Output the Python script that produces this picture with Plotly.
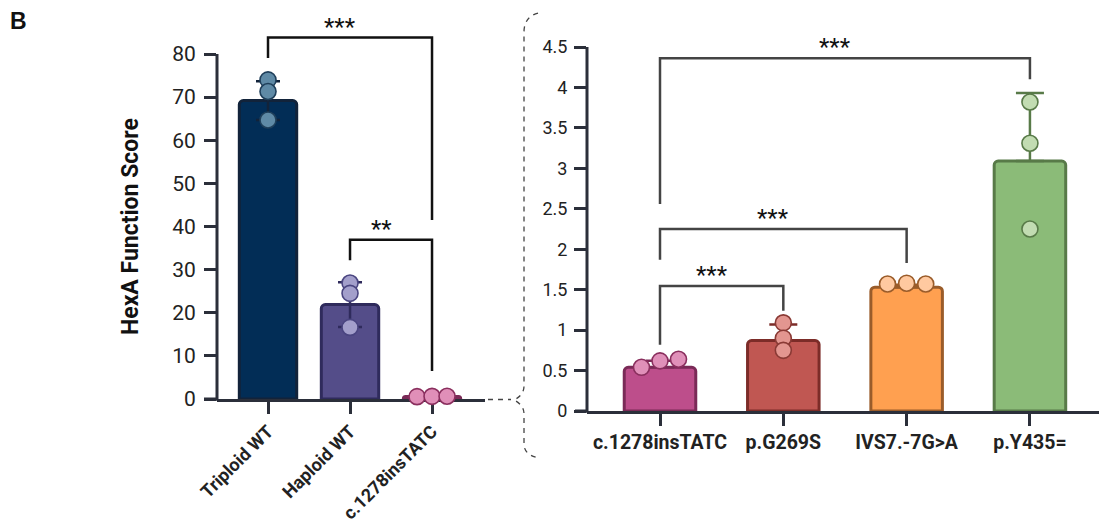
import plotly.graph_objects as go

# ---------------- data ----------------
left_categories = ["Triploid WT", "Haploid WT", "c.1278insTATC"]
left_means = [69.2, 21.9, 0.56]
left_sd = [4.5, 5.2, 0.06]
left_points = [[74.0, 71.3, 64.7], [26.9, 24.5, 16.6], [0.54, 0.62, 0.64]]
left_ticks = [0, 10, 20, 30, 40, 50, 60, 70, 80]

right_categories = ["c.1278insTATC", "p.G269S", "IVS7.-7G>A", "p.Y435="]
right_means = [0.54, 0.87, 1.53, 3.09]
right_sd = [0.08, 0.20, 0.03, 0.84]
right_points = [[0.54, 0.62, 0.64], [1.09, 0.90, 0.75], [1.57, 1.58, 1.57], [3.82, 3.31, 2.25]]
right_ticks = [0, 0.5, 1, 1.5, 2, 2.5, 3, 3.5, 4, 4.5]
right_tick_text = ["0", "0.5", "1", "1.5", "2", "2.5", "3", "3.5", "4", "4.5"]

# significance brackets: (from group, to group, bracket level, left leg end, right leg end, label)
left_brackets = [(0, 2, 83.8, 79.1, 41.5, "***"), (1, 2, 36.9, 32.2, 6.5, "**")]
right_brackets = [(0, 3, 4.36, 2.56, 4.10, "***"), (0, 2, 2.25, 1.87, 1.83, "***"),
                  (0, 1, 1.545, 0.82, 1.24, "***")]

# ---------------- styles ----------------
W, H = 1099, 523
AX = "#2b2f3a"
FONT = "Roboto"
left_fill = ["#022d56", "#544d89", "#bd4e8b"]
left_line = ["#12233a", "#2f2b5c", "#7a2a57"]
left_pt = ["#5f8aa6", "#a39fcb", "#e08fb8"]
left_pt_line = ["#1f3f5a", "#4a4580", "#8a2f5e"]
left_jitter = [[0, 0, 0], [0, 0, 0], [-0.183, 0, 0.183]]

right_fill = ["#bd4e8b", "#c05752", "#ffa050", "#8bbb78"]
right_line = ["#7a2a57", "#7c2c28", "#9a5c2a", "#587a48"]
right_pt = ["#e090b9", "#e39690", "#ffc9a0", "#c2dcb2"]
right_pt_line = ["#8a2f5e", "#8a3a35", "#9a5c2a", "#587a48"]
right_jitter = [[-0.15, 0, 0.15], [0, 0, 0], [-0.155, 0, 0.155], [0, 0, 0]]

LEFT_YMAX = 88
RIGHT_YMAX = 4.8

fig = go.Figure()


def add_panel(xa, ya, means, sd, points, fill, line, pt, ptl, jitter, bar_w, sym, cap, brackets, bracket_color, star_shift):
    idx = list(range(len(means)))
    fig.add_trace(go.Bar(x=idx, y=means, width=bar_w, xaxis=xa, yaxis=ya,
                         marker=dict(color=fill, line=dict(color=line, width=3), cornerradius=4),
                         hoverinfo="skip"))
    for i in idx:
        fig.add_trace(go.Scatter(
            x=[i], y=[means[i]], mode="markers", xaxis=xa, yaxis=ya,
            marker=dict(size=1, opacity=0),
            error_y=dict(type="data", array=[sd[i]], arrayminus=[sd[i] if sym else 0],
                         color=line[i], thickness=2.5, width=cap),
            hoverinfo="skip"))
    for i in idx:
        fig.add_trace(go.Scatter(
            x=[i + j for j in jitter[i]], y=points[i], mode="markers", xaxis=xa, yaxis=ya,
            cliponaxis=False,
            marker=dict(size=16, color=pt[i], line=dict(color=ptl[i], width=1.6)),
            hoverinfo="skip"))
    for (a, b, lvl, la, lb, lab) in brackets:
        fig.add_trace(go.Scatter(x=[a, a, b, b], y=[la, lvl, lvl, lb], mode="lines",
                                 xaxis=xa, yaxis=ya, line=dict(color=bracket_color, width=2.5),
                                 hoverinfo="skip"))
        fig.add_annotation(x=(a + b) / 2, y=lvl, xref=xa, yref=ya, text=lab, showarrow=False,
                           xshift=-10, yshift=star_shift, xanchor="center", yanchor="bottom",
                           font=dict(family=FONT, size=24, color="#111"))


add_panel("x", "y", left_means, left_sd, left_points, left_fill, left_line, left_pt, left_pt_line,
          left_jitter, 0.70, True, 12, left_brackets, "#111111", -5)
add_panel("x2", "y2", right_means, right_sd, right_points, right_fill, right_line, right_pt,
          right_pt_line, right_jitter, 0.58, False, 14, right_brackets, "#444444", -5)

xd1 = [217 / W, 485 / W]
yd1 = [1 - 399 / H, 1 - (399 - LEFT_YMAX * (345 / 80)) / H]
xd2 = [587 / W, 1.0]
yd2 = [1 - 411 / H, 1 - (411 - RIGHT_YMAX * (364 / 4.5)) / H]

common_axis = dict(showgrid=False, zeroline=False, ticks="outside", ticklen=12, tickwidth=3,
                   tickcolor=AX, automargin=False)
fig.update_layout(
    width=W, height=H, margin=dict(l=0, r=0, t=0, b=0, autoexpand=False),
    paper_bgcolor="white", plot_bgcolor="white", showlegend=False,
    xaxis=dict(domain=xd1, range=[-0.622, 2.646], tickvals=[0, 1, 2], ticktext=left_categories,
               tickangle=-45, showline=True, linewidth=3, linecolor=AX, anchor="y",
               layer="below traces",
               tickfont=dict(family=FONT, size=18, color="#222", weight=700), **common_axis),
    yaxis=dict(domain=yd1, range=[0, LEFT_YMAX], tickvals=left_ticks, showline=False, anchor="x",
               ticklabelstandoff=4,
               tickfont=dict(family=FONT, size=21, color="#222"), **common_axis),
    xaxis2=dict(domain=xd2, range=[-0.592, 3.56], tickvals=[0, 1, 2, 3], ticktext=right_categories,
                tickangle=0, showline=True, linewidth=3, linecolor=AX, anchor="y2",
                tickfont=dict(family=FONT, size=19.5, color="#222", weight=700), **common_axis),
    yaxis2=dict(domain=yd2, range=[0, RIGHT_YMAX], tickvals=right_ticks, ticktext=right_tick_text,
                showline=False, anchor="x2", ticklabelstandoff=3,
                tickfont=dict(family=FONT, size=18, color="#222"), **common_axis),
)

# y-axis lines only up to the top tick
fig.add_shape(type="line", xref="x domain", yref="y domain", x0=0, x1=0, y0=-0.004,
              y1=left_ticks[-1] / LEFT_YMAX, line=dict(color=AX, width=3), layer="above")
fig.add_shape(type="line", xref="x2 domain", yref="y2 domain", x0=0, x1=0, y0=-0.004,
              y1=right_ticks[-1] / RIGHT_YMAX, line=dict(color=AX, width=3), layer="above")
# x-axis line extension under the y tick marks
fig.add_shape(type="line", xref="x domain", yref="y domain", x0=-13 / 268, x1=0, y0=0, y1=0,
              line=dict(color=AX, width=3), layer="above")
fig.add_shape(type="line", xref="x2 domain", yref="y2 domain", x0=-12 / 512, x1=0, y0=0, y1=0,
              line=dict(color=AX, width=3), layer="above")


def P(x, y):
    return f"{x / W:.5f},{1 - y / H:.5f}"


brace = (f"M {P(538, 13)} Q {P(524, 17)} {P(524, 32)} L {P(524, 386)} "
         f"Q {P(524, 395)} {P(514, 400)} Q {P(524, 405)} {P(524, 414)} "
         f"L {P(524, 444)} Q {P(524, 455)} {P(539, 458)}")
fig.add_shape(type="path", xref="paper", yref="paper", path=brace,
              line=dict(color="#444", width=1.3, dash="5px,5px"))
fig.add_shape(type="line", xref="paper", yref="paper", x0=488 / W, x1=511 / W,
              y0=1 - 399.5 / H, y1=1 - 399.5 / H, line=dict(color="#444", width=1.3, dash="5px,5px"))

fig.add_annotation(x=131 / W, y=1 - 227 / H, xref="paper", yref="paper", text="HexA Function Score",
                   textangle=-90, showarrow=False, xanchor="center", yanchor="middle",
                   font=dict(family=FONT, size=23, color="#111", weight=700))
fig.add_annotation(x=18 / W, y=1 - 21 / H, xref="paper", yref="paper", text="B", showarrow=False,
                   xanchor="center", yanchor="middle",
                   font=dict(family="Liberation Sans", size=23, color="#111", weight=700))

fig.write_html("out.html", config={"displayModeBar": False},
               post_script="document.body.style.margin='0px';")
